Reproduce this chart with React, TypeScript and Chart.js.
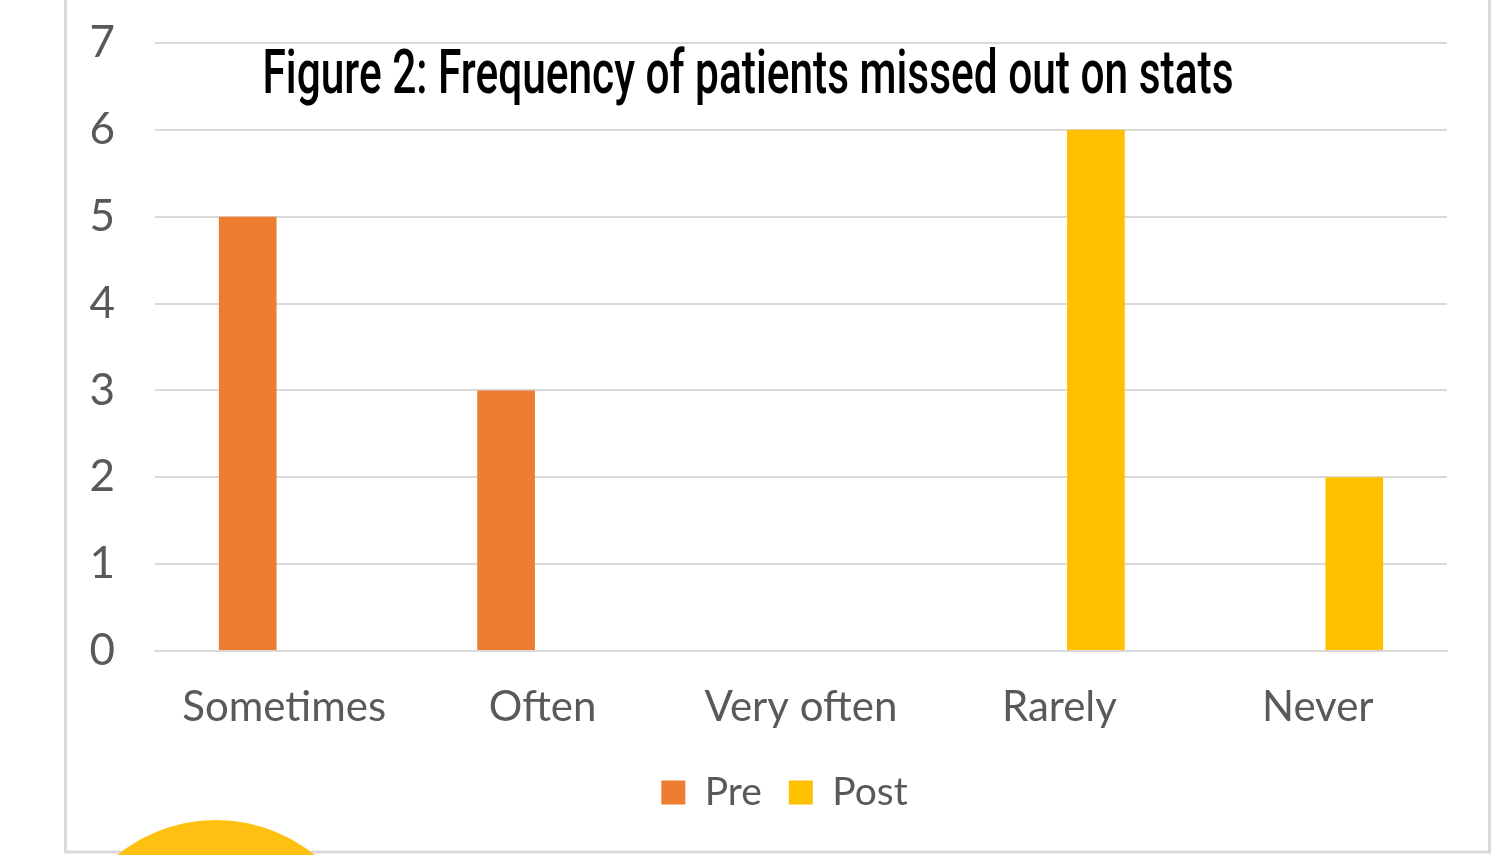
import React, { useEffect, useRef } from "react";
import { Chart, registerables } from "chart.js";

Chart.register(...registerables);

const categories = ["Sometimes", "Often", "Very often", "Rarely", "Never"];
const seriesNames = ["Pre", "Post"];
const preValues = [5, 3, 0, 0, 0];
const postValues = [0, 0, 0, 6, 2];
const yMin = 0;
const yMax = 7;
const yStep = 1;
const titleText = "Figure 2: Frequency of patients missed out on stats";

const ORANGE = "#ED7D31";
const YELLOW = "#FFC000";
const GRID = "#D9D9D9";
const TEXT = "#595959";
const FONT = "Lato, 'Open Sans', sans-serif";

const W = 1496;
const H = 855;

const decorations = {
  id: "decorations",
  beforeDraw(chart: any) {
    const ctx = chart.ctx;
    ctx.save();
    ctx.fillStyle = "#FFFFFF";
    ctx.fillRect(0, 0, chart.width, chart.height);
    ctx.strokeStyle = GRID;
    ctx.lineWidth = 3;
    ctx.beginPath();
    ctx.moveTo(65.5, -5);
    ctx.lineTo(65.5, 852);
    ctx.lineTo(1489.5, 852);
    ctx.lineTo(1489.5, -5);
    ctx.stroke();
    ctx.restore();
  },
  afterDraw(chart: any) {
    const ctx = chart.ctx;
    ctx.save();
    ctx.fillStyle = "#000000";
    ctx.font = "500 62px Roboto, 'DejaVu Sans', sans-serif";
    ctx.textBaseline = "alphabetic";
    ctx.textAlign = "left";
    const w = ctx.measureText(titleText).width;
    const targetW = 971;
    const sx = targetW / w;
    ctx.translate(chart.width / 2 - targetW / 2, 93);
    ctx.scale(sx, 1);
    ctx.fillText(titleText, 0, 0);
    ctx.restore();

    ctx.save();
    ctx.fillStyle = "#FEC112";
    ctx.beginPath();
    ctx.arc(216, 977, 157, 0, Math.PI * 2);
    ctx.fill();
    ctx.restore();
  },
};

export default function App() {
  const ref = useRef<HTMLCanvasElement | null>(null);

  useEffect(() => {
    if (!ref.current) return;
    const chart = new Chart(ref.current, {
      type: "bar",
      data: {
        labels: categories,
        datasets: [
          {
            label: seriesNames[0],
            data: preValues,
            backgroundColor: ORANGE,
            borderWidth: 0,
            categoryPercentage: 0.565,
            barPercentage: 0.79,
          },
          {
            label: seriesNames[1],
            data: postValues,
            backgroundColor: YELLOW,
            borderWidth: 0,
            categoryPercentage: 0.565,
            barPercentage: 0.79,
          },
        ],
      },
      options: {
        responsive: false,
        animation: false,
        devicePixelRatio: 1,
        layout: { padding: { left: 85, right: 12, top: 43, bottom: 33 } },
        plugins: {
          tooltip: { enabled: false },
          title: { display: false },
          legend: {
            display: true,
            position: "bottom",
            labels: {
              color: TEXT,
              font: { family: FONT, size: 39 },
              boxWidth: 24,
              boxHeight: 24,
              padding: 27,
            },
          },
        },
        scales: {
          x: {
            grid: { display: false, drawTicks: false },
            border: { display: true, color: GRID, width: 2 },
            ticks: {
              color: TEXT,
              font: { family: FONT, size: 42 },
              padding: 31,
              maxRotation: 0,
            },
            afterFit(scale: any) {
              scale.height = 95;
            },
          },
          y: {
            min: yMin,
            max: yMax,
            grid: { color: GRID, lineWidth: 2, drawTicks: false },
            border: { display: false },
            ticks: {
              stepSize: yStep,
              color: TEXT,
              font: { family: FONT, size: 44 },
              padding: 40,
            },
            afterFit(scale: any) {
              scale.width = 70;
              scale.paddingTop = 0;
              scale.paddingBottom = 0;
            },
          },
          spacer: {
            type: "linear",
            position: "right",
            display: true,
            grid: { display: false, drawTicks: false },
            border: { display: false },
            ticks: { display: false },
            afterFit(scale: any) {
              scale.width = 37;
              scale.paddingTop = 0;
              scale.paddingBottom = 0;
            },
          },
        },
      },
      plugins: [decorations],
    });
    return () => chart.destroy();
  }, []);

  return (
    <div style={{ position: "fixed", left: 0, top: 0, width: W, height: H, background: "#fff" }}>
      <canvas ref={ref} width={W} height={H} style={{ display: "block" }} />
    </div>
  );
}
